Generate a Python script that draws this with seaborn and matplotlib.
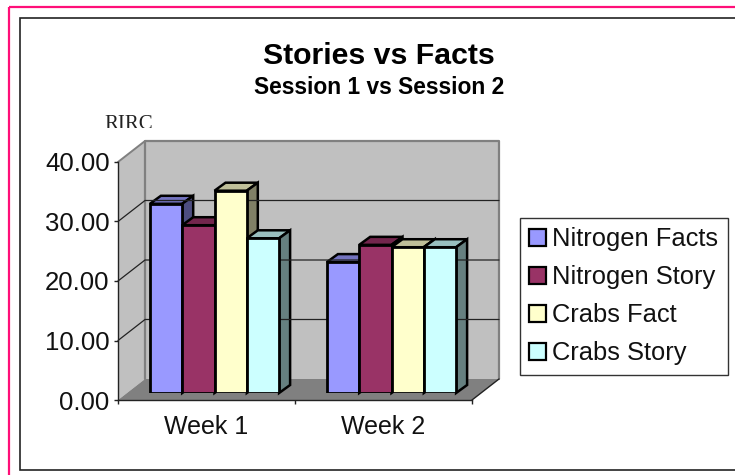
import matplotlib
matplotlib.use("Agg")
import matplotlib.pyplot as plt
import matplotlib.colors as mc
from matplotlib.patches import Polygon, Rectangle
import pandas as pd
import seaborn as sns

weeks = ["Week 1", "Week 2"]
nitrogen_facts = [31.8, 22.0]
nitrogen_story = [28.2, 24.9]
crabs_fact = [34.0, 24.5]
crabs_story = [26.0, 24.5]
series_names = ["Nitrogen Facts", "Nitrogen Story", "Crabs Fact", "Crabs Story"]
series_colors = ["#9999FF", "#993366", "#FFFFCC", "#CCFFFF"]
y_ticks = [0, 10, 20, 30, 40]

W, H = 735, 475
sns.set_theme(style="white")
plt.rcParams["font.family"] = ["Liberation Sans", "DejaVu Sans"]
fig = plt.figure(figsize=(W / 100, H / 100), dpi=100, facecolor="white")

def px_axes(l, t, r, b, **kw):
    return fig.add_axes([l / W, 1 - b / H, (r - l) / W, (b - t) / H], **kw)

# page layer, in pixel coordinates; both frames run off the right and bottom
bg = fig.add_axes([0, 0, 1, 1])
bg.set_xlim(0, W); bg.set_ylim(H, 0); bg.axis("off")
bg.add_patch(Rectangle((9, 6.5), 800, 500, fc="none", ec="#FF0F78", lw=1.6))
bg.add_patch(Rectangle((20.5, 18), 800, 452, fc="white", ec="#222222", lw=1.2))

# plot geometry
L, R, T, B = 118, 472, 162, 400     # front plane
DX, DY = 27, -21                    # room depth
BAR_DX, BAR_DY = 8, -7              # bar front plane offset
SIDE_DX, SIDE_DY = 11, -8           # bar depth

# walls
bg.add_patch(Polygon([(L, B), (L, T), (L + DX, T + DY), (L + DX, B + DY)], fc="#C0C0C0", ec="none"))
bg.add_patch(Polygon([(L + DX, B + DY), (L + DX, T + DY), (R + DX, T + DY), (R + DX, B + DY)], fc="#C0C0C0", ec="none"))
bg.add_patch(Polygon([(L, B), (L + DX, B + DY), (R + DX, B + DY), (R, B)], fc="#808080", ec="none"))
bg.plot([L + DX, L + DX, R + DX, R + DX], [B + DY, T + DY, T + DY, B + DY], color="#808080", lw=1.6)
bg.plot([L, L + DX], [T, T + DY], color="#808080", lw=1.4)
for v in y_ticks[1:-1]:
    y = B + (T - B) * v / y_ticks[-1]
    bg.plot([L, L + DX, R + DX], [y, y + DY, y + DY], color="#222222", lw=0.9)
bg.plot([R, R + DX], [B, B + DY], color="#222222", lw=1)

rirc = bg.text(128.5, 124.5, "RIRC", family="Liberation Serif", fontsize=15, ha="center",
               va="center", color="#222222")
rirc.set_clip_path(Rectangle((90, 100), 100, 28, transform=bg.transData))
rirc.set_clip_on(True)
bg.text(379, 56, "Stories vs Facts", fontsize=21.8, fontweight="bold", ha="center", va="center", color="black")
bg.text(379, 88, "Session 1 vs Session 2", fontsize=16.4, fontweight="bold", ha="center", va="center", color="black")

# value and category axes on the front plane
ax = px_axes(L, T, R, B)
ax.patch.set_alpha(0)
ax.set_xlim(-0.5, 1.5); ax.set_ylim(0, 40)
ax.set_yticks(y_ticks, [f"{v:.2f}" for v in y_ticks])
ax.set_xticks([0, 1], weeks)
ax.set_xticks([-0.5, 0.5, 1.5], minor=True)
for s in ("top", "right"):
    ax.spines[s].set_visible(False)
for s in ("left", "bottom"):
    ax.spines[s].set_color("#222222"); ax.spines[s].set_linewidth(1)
ax.tick_params(axis="y", left=True, length=3, width=1, color="#222222", labelsize=18.5, pad=3, labelcolor="#111111")
ax.tick_params(axis="x", which="major", bottom=False, labelsize=18, pad=5, labelcolor="#111111")
ax.tick_params(axis="x", which="minor", bottom=True, length=3, width=1, color="#222222")

# bars
df = pd.DataFrame({
    "week": weeks * 4,
    "series": [n for n in series_names for _ in weeks],
    "value": nitrogen_facts + nitrogen_story + crabs_fact + crabs_story,
})
bx = px_axes(L + BAR_DX, T + BAR_DY, R + BAR_DX, B + BAR_DY)
bx.patch.set_alpha(0)
sns.barplot(data=df, x="week", y="value", hue="series", hue_order=series_names,
            palette=series_colors, order=weeks, width=0.73, gap=0, saturation=1,
            edgecolor="black", linewidth=2, ax=bx, legend=False, zorder=3)
bx.set_xlim(-0.5, 1.5); bx.set_ylim(0, 40)
bx.axis("off")

# depth faces derived from the seaborn bars
def shade(c, f):
    return tuple(x * f for x in mc.to_rgb(c))

fig.canvas.draw()
inv = bg.transData.inverted()
rects = [p for p in bx.patches if p.get_height() > 0]
rects.sort(key=lambda p: p.get_x())
for p in rects:
    (x0, y1) = inv.transform(bx.transData.transform((p.get_x(), 0)))
    (x1, y0) = inv.transform(bx.transData.transform((p.get_x() + p.get_width(), p.get_height())))
    c = p.get_facecolor()
    top = Polygon([(x0, y0), (x0 + SIDE_DX, y0 + SIDE_DY), (x1 + SIDE_DX, y0 + SIDE_DY), (x1, y0)],
                  fc=shade(c, 0.75), ec="black", lw=1.8, joinstyle="miter")
    side = Polygon([(x1, y0), (x1 + SIDE_DX, y0 + SIDE_DY), (x1 + SIDE_DX, y1 + SIDE_DY), (x1, y1)],
                   fc=shade(c, 0.5), ec="black", lw=1.8, joinstyle="miter")
    bg.add_patch(top); bg.add_patch(side)

# legend
handles = [Rectangle((0, 0), 1, 1, fc=c, ec="black", lw=1.6) for c in series_colors]
leg = fig.legend(handles, series_names, loc="upper left",
                 bbox_to_anchor=(520 / W, 1 - 218 / H), bbox_transform=fig.transFigure,
                 fontsize=18.4, frameon=True, fancybox=False, edgecolor="#333333", framealpha=1,
                 handlelength=0.66, handleheight=0.66, handletextpad=0.25, labelspacing=0.55,
                 borderpad=0.36, borderaxespad=0)
leg.get_frame().set_linewidth(1)
for t in leg.get_texts():
    t.set_color("#111111")

fig.savefig("out.png", dpi=100)
